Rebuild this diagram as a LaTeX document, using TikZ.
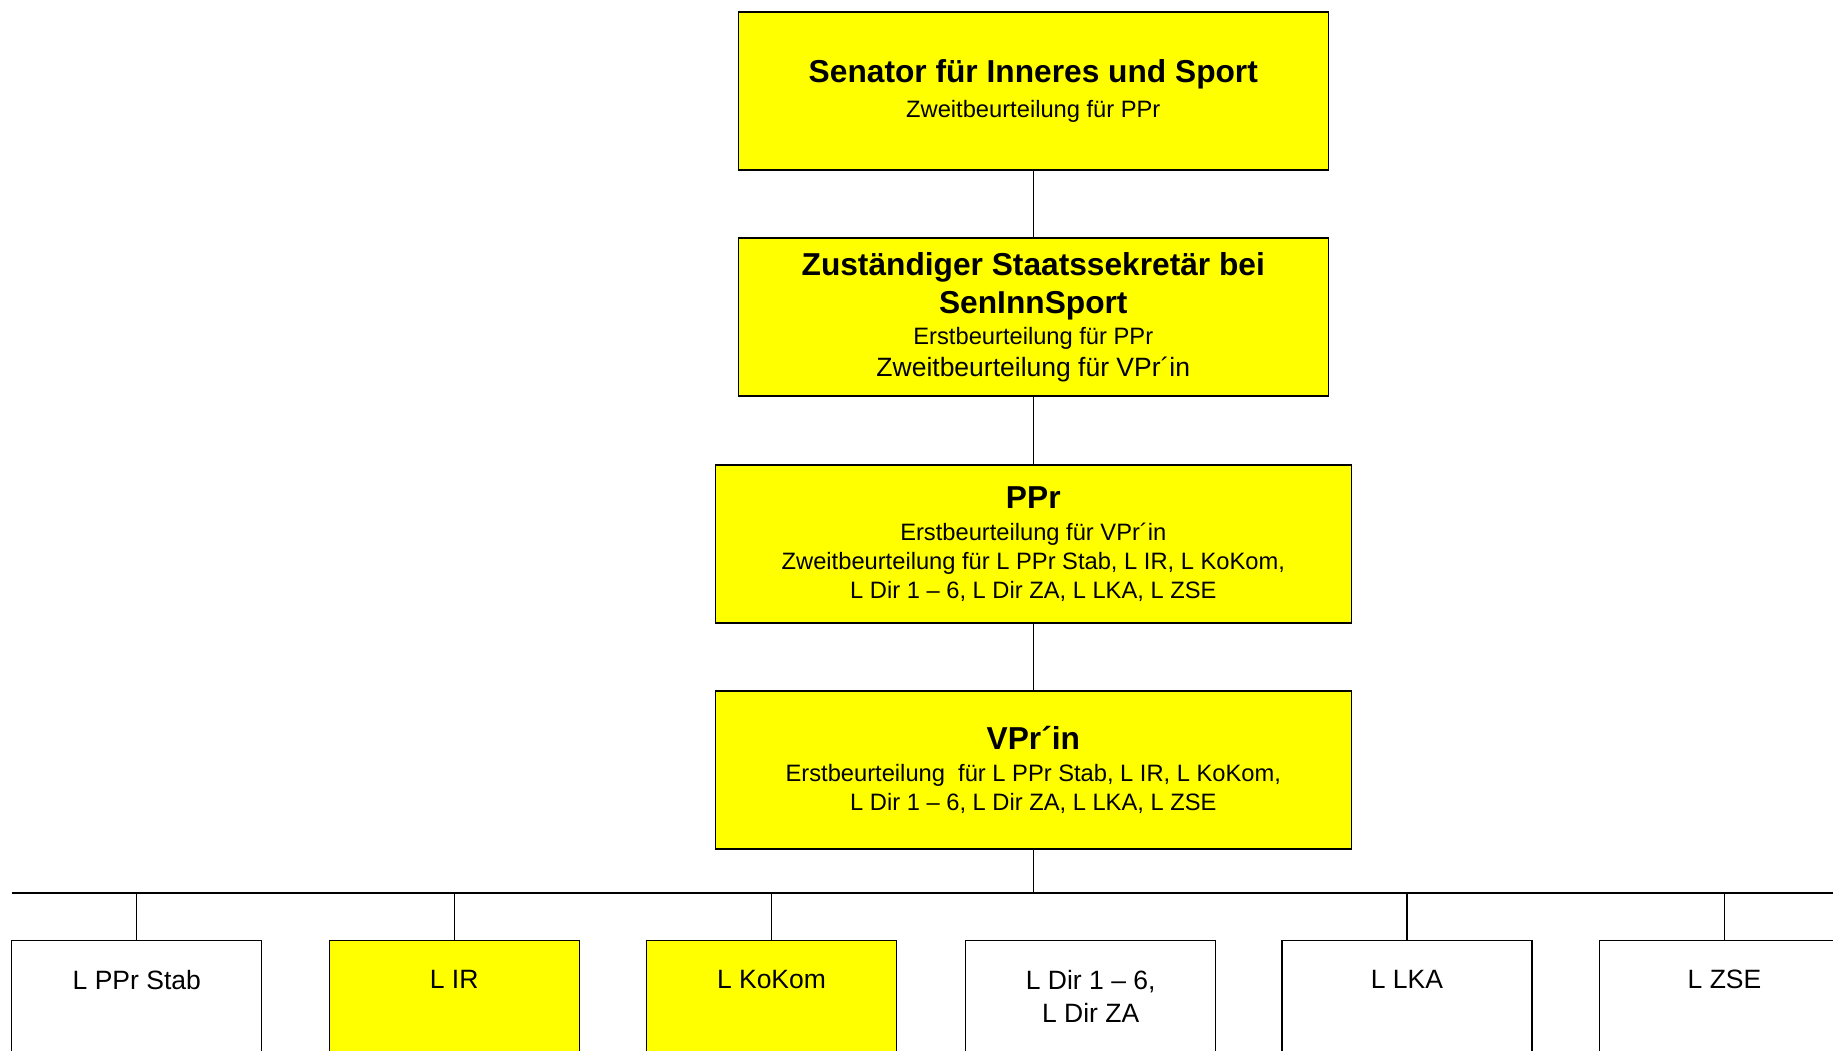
\documentclass[tikz,border=0pt]{standalone}
\usepackage{fontspec}
\setmainfont{Liberation Sans}
\definecolor{orgYellow}{RGB}{255,255,0}
\newcommand{\orgTitle}[1]{{\fontsize{31.7pt}{37.3pt}\selectfont\bfseries #1}}
\newcommand{\orgLarge}[1]{{\fontsize{26.5pt}{29pt}\selectfont #1}}

\begin{document}
\begin{tikzpicture}[x=1pt,y=-1pt,
  headbox/.style={draw, line width=1.5pt, fill=orgYellow, align=center, inner sep=0pt,
    minimum height=158pt, font={\fontsize{23.7pt}{29pt}\selectfont}},
  unitbox/.style={draw, line width=1.3pt, anchor=north, minimum width=250pt, minimum height=200pt},
  unittext/.style={anchor=north, align=center, inner sep=0pt, font={\fontsize{26.5pt}{32.8pt}\selectfont}},
  link/.style={line width=1.3pt}]
\useasboundingbox (0,0) rectangle (1833,1050);
\clip (0,0) rectangle (1833,1050);
% Leitungsebene
\node[headbox, minimum width=590pt] (senator) at (1033.3,91) {\orgTitle{Senator für Inneres und Sport}\\[6pt]Zweitbeurteilung für PPr};
\node[headbox, minimum width=590pt] (staatssek) at (1033.3,317) {\orgTitle{Zuständiger Staatssekretär bei}\\[9pt]\orgTitle{SenInnSport}\\[2.5pt]Erstbeurteilung für PPr\\[2.5pt]\orgLarge{Zweitbeurteilung für VPr´in}};
\node[headbox, minimum width=636pt] (ppr) at (1033.3,544) {\orgTitle{PPr}\\[2.5pt]Erstbeurteilung für VPr´in\\Zweitbeurteilung für L PPr Stab, L IR, L KoKom,\\L Dir 1 – 6, L Dir ZA, L LKA, L ZSE};
\node[headbox, minimum width=636pt] (vpr) at (1033.3,770) {\orgTitle{VPr´in}\\[3pt]Erstbeurteilung\ \ für L PPr Stab, L IR, L KoKom,\\L Dir 1 – 6, L Dir ZA, L LKA, L ZSE};
\draw[link] (senator.south) -- (staatssek.north);
\draw[link] (staatssek.south) -- (ppr.north);
\draw[link] (ppr.south) -- (vpr.north);
% Sammelschiene
\coordinate (busW) at (11.7,893);
\coordinate (busE) at (1840,893);
\draw[link] (busW) -- (busE);
\draw[link] (vpr.south) -- (vpr.south |- busW);
% Leiter der Bereiche
\node[unitbox] (stab) at (136.8,940) {};
\node[unitbox, fill=orgYellow] (ir) at (454.2,940) {};
\node[unitbox, fill=orgYellow] (kokom) at (771.5,940) {};
\node[unitbox] (dir) at (1090.7,940) {};
\node[unitbox] (lka) at (1407,940) {};
\node[unitbox] (zse) at (1724.5,940) {};
\node[unittext] (stabtxt) at ([yshift=-30pt]stab.north) {L PPr Stab};
\node[unittext] (irtxt) at ([yshift=-30pt]ir.north) {L IR};
\node[unittext] (kokomtxt) at ([yshift=-30pt]kokom.north) {L KoKom};
\node[unittext] (dirtxt) at ([yshift=-30pt]dir.north) {L Dir 1 – 6,\\L Dir ZA};
\node[unittext] (lkatxt) at ([yshift=-30pt]lka.north) {L LKA};
\node[unittext] (zsetxt) at ([yshift=-30pt]zse.north) {L ZSE};
\draw[link] (stab.north) -- (stab.north |- busW);
\draw[link] (ir.north) -- (ir.north |- busW);
\draw[link] (kokom.north) -- (kokom.north |- busW);
\draw[link] (lka.north) -- (lka.north |- busW);
\draw[link] (zse.north) -- (zse.north |- busW);
\end{tikzpicture}
\end{document}
